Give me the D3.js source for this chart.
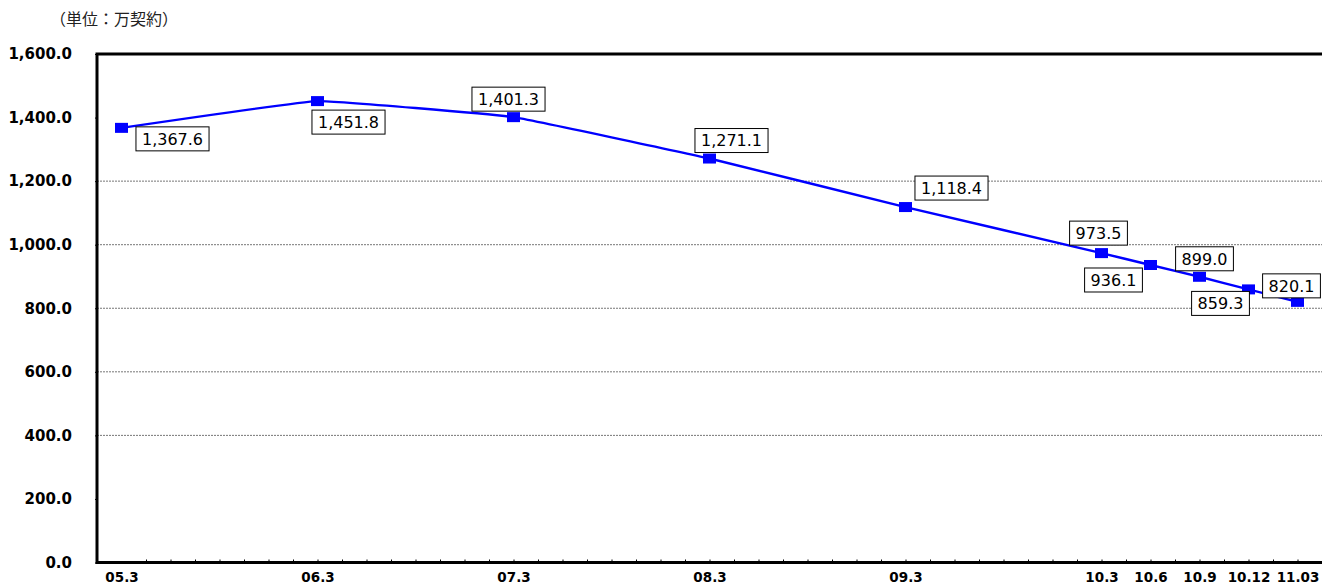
<!DOCTYPE html>
<html>
<head>
<meta charset="utf-8">
<script src="https://cdn.jsdelivr.net/npm/d3@7"></script>
<style>
  body { margin: 0; background: #fff; }
  svg { display: block; }
</style>
</head>
<body>
<svg width="1322" height="587"></svg>
<script>
// ---- data ----
const periods = ['05.3', '06.3', '07.3', '08.3', '09.3', '10.3', '10.6', '10.9', '10.12', '11.03'];
const monthIndex = [0, 12, 24, 36, 48, 60, 63, 66, 69, 72]; // months after March 2005
const contracts = [1367.6, 1451.8, 1401.3, 1271.1, 1118.4, 973.5, 936.1, 899.0, 859.3, 820.1];
const yTicks = [0, 200, 400, 600, 800, 1000, 1200, 1400, 1600];
const gridValues = [400, 600, 800, 1000, 1200];
const unitLabel = '（単位：万契約）';

// label box centre offsets from each marker (layout only)
const labelOffsets = [[51, 11], [31, 21], [-5, -18], [22, -18], [46, -19],
                      [-3, -20], [-37, 15], [5, -18], [-28, 14], [-6, -16]];

const svg = d3.select('svg');
const plot = { l: 97, r: 1322, t: 54, b: 562.5 };

// month -1.5 sits on the left axis, month 73.5 at the right edge
const xScale = d3.scaleLinear()
    .domain([-1.5, 73.5])
    .range([plot.l, plot.r]);

const yScale = d3.scaleLinear()
    .domain([0, 1600])
    .range([plot.b, plot.t]);

svg.append('rect')
    .attr('width', 1322)
    .attr('height', 587)
    .attr('fill', '#fff');

svg.append('text')
    .attr('x', 50)
    .attr('y', 25)
    .attr('font-family', '"Noto Sans CJK JP", sans-serif')
    .attr('font-size', 16)
    .attr('fill', '#222')
    .text(unitLabel);

// dotted grid lines
svg.append('g')
    .selectAll('line')
    .data(gridValues)
    .enter()
    .append('line')
    .attr('x1', plot.l)
    .attr('x2', plot.r)
    .attr('y1', d => yScale(d))
    .attr('y2', d => yScale(d))
    .attr('stroke', '#777')
    .attr('stroke-width', 1)
    .attr('stroke-dasharray', '2,1');

// y axis
const yAxis = d3.axisLeft(yScale)
    .tickValues(yTicks)
    .tickSize(2)
    .tickPadding(23)
    .tickFormat(d3.format(',.1f'));

const yG = svg.append('g')
    .attr('transform', `translate(${plot.l}, 0)`)
    .call(yAxis);
yG.select('.domain').remove();
yG.selectAll('.tick line').attr('stroke', '#000');
yG.selectAll('.tick text')
    .attr('font-family', '"DejaVu Sans", sans-serif')
    .attr('font-weight', 'bold')
    .attr('font-size', 15)
    .attr('fill', '#000');

// minor ticks along the bottom, every 1.5 months, pointing up
const minorAxis = d3.axisBottom(xScale)
    .tickValues(d3.range(1.5, 73, 1.5))
    .tickSize(-3)
    .tickFormat('');
const minorG = svg.append('g')
    .attr('transform', `translate(0, ${plot.b})`)
    .call(minorAxis);
minorG.select('.domain').remove();
minorG.selectAll('.tick line').attr('stroke', '#000');

// x labels
const xAxis = d3.axisBottom(xScale)
    .tickValues(monthIndex)
    .tickSize(0)
    .tickPadding(10)
    .tickFormat((d, i) => periods[i]);
const xG = svg.append('g')
    .attr('transform', `translate(0, ${plot.b})`)
    .call(xAxis);
xG.select('.domain').remove();
xG.selectAll('.tick text')
    .attr('font-family', '"DejaVu Sans", sans-serif')
    .attr('font-weight', 'bold')
    .attr('font-size', 13.5)
    .attr('fill', '#000');

// frame: left axis, bottom axis, top border
svg.append('path')
    .attr('d', `M${plot.r},${plot.t}H${plot.l}V${plot.b}H${plot.r}`)
    .attr('fill', 'none')
    .attr('stroke', '#000')
    .attr('stroke-width', 3);

// series
const points = contracts.map((v, i) => ({ m: monthIndex[i], v: v, i: i }));

const line = d3.line()
    .x(d => xScale(d.m))
    .y(d => yScale(d.v))
    .curve(d3.curveCardinal.tension(0.75));

svg.append('path')
    .datum(points)
    .attr('d', line)
    .attr('fill', 'none')
    .attr('stroke', '#0000ff')
    .attr('stroke-width', 2.4);

svg.append('g')
    .selectAll('rect')
    .data(points)
    .enter()
    .append('rect')
    .attr('x', d => xScale(d.m) - 6.5)
    .attr('y', d => yScale(d.v) - 5)
    .attr('width', 13)
    .attr('height', 10)
    .attr('fill', '#0000ff');

// boxed value labels
const fmt = d3.format(',.1f');
const labelG = svg.append('g')
    .selectAll('g')
    .data(points)
    .enter()
    .append('g')
    .attr('transform', d => {
        const tx = xScale(d.m) + labelOffsets[d.i][0];
        const ty = yScale(d.v) + labelOffsets[d.i][1];
        return `translate(${tx}, ${ty})`;
    });

labelG.append('rect');
labelG.append('text')
    .attr('text-anchor', 'middle')
    .attr('dy', '0.36em')
    .attr('font-family', '"DejaVu Sans", sans-serif')
    .attr('font-size', 16)
    .attr('fill', '#000')
    .text(d => fmt(d.v));

labelG.each(function () {
    const g = d3.select(this);
    const w = g.select('text').node().getComputedTextLength() + 12;
    const h = 24;
    g.select('rect')
        .attr('x', -w / 2)
        .attr('y', -h / 2)
        .attr('width', w)
        .attr('height', h)
        .attr('fill', '#fff')
        .attr('stroke', '#000')
        .attr('stroke-width', 1);
});
</script>
</body>
</html>
